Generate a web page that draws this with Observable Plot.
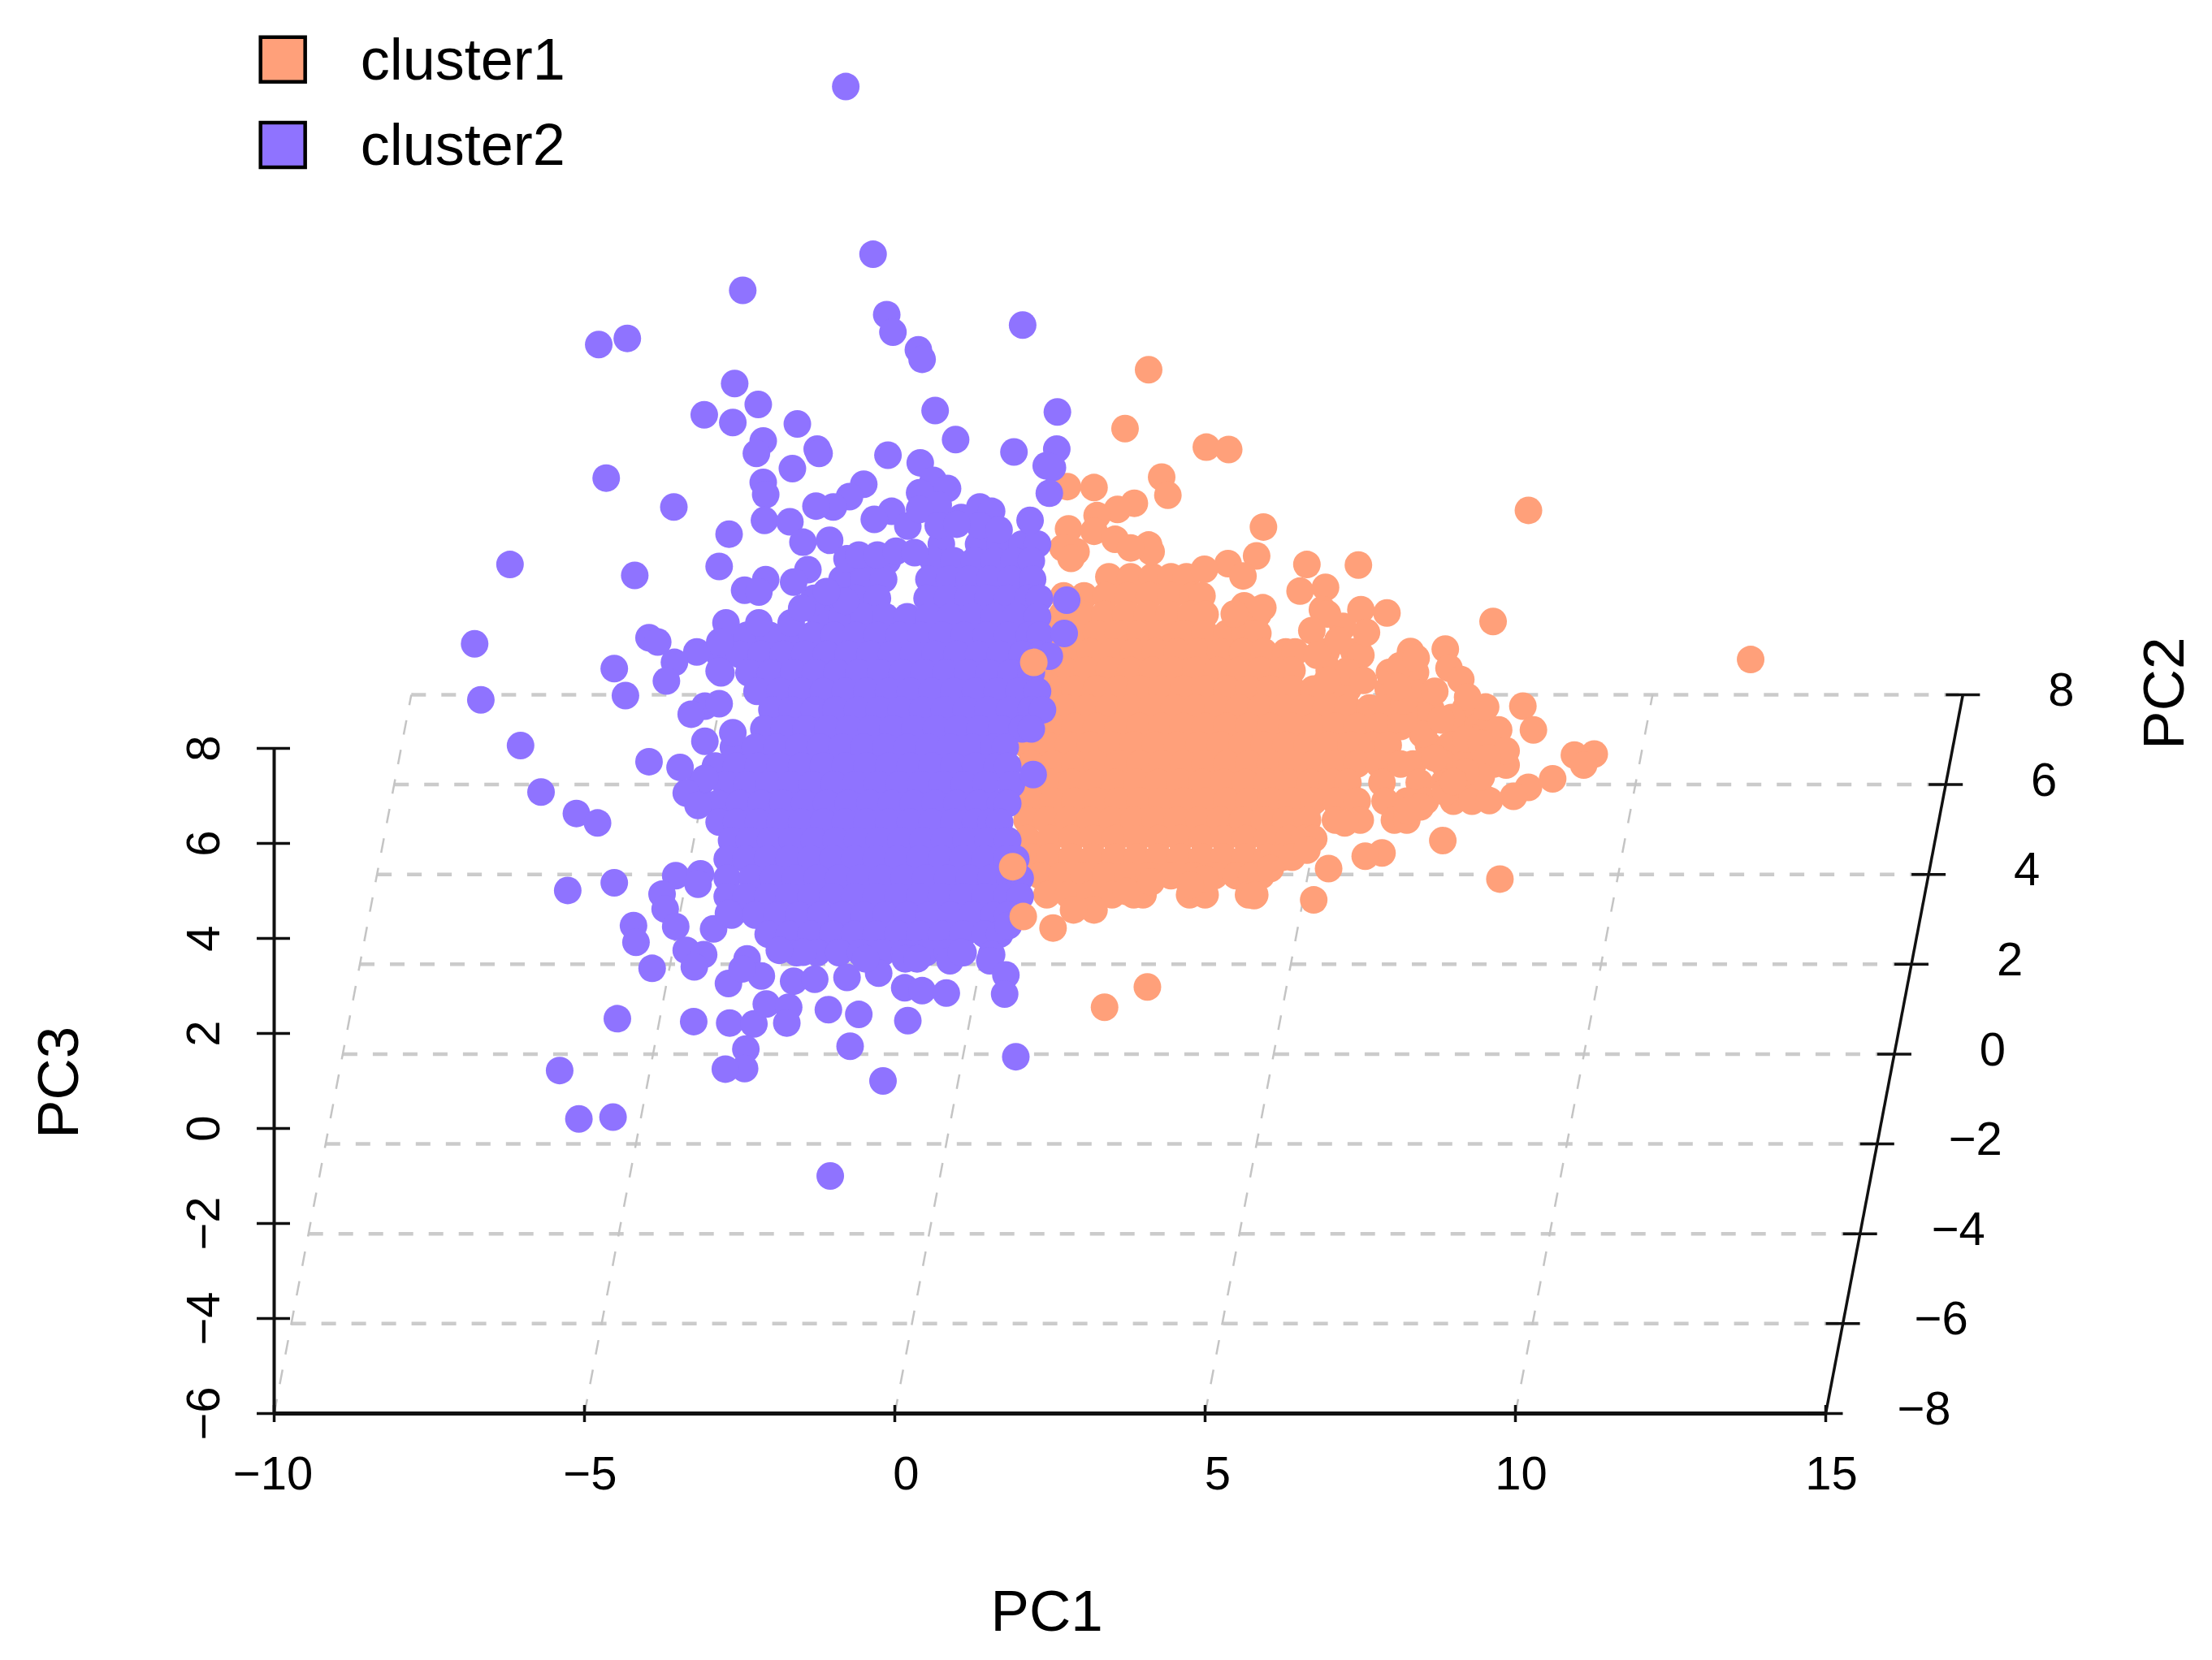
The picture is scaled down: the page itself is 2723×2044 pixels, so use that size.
<!DOCTYPE html>
<html>
<head>
<meta charset="utf-8">
<script src="https://cdn.jsdelivr.net/npm/d3@7"></script>
<script src="https://cdn.jsdelivr.net/npm/@observablehq/plot@0.6"></script>
<style>html,body{margin:0;padding:0;background:#fff}svg{display:block}</style>
</head>
<body>
<div id="chart"></div>
<script>
// Tick values
const pc1Ticks = [-10, -5, 0, 5, 10, 15];
const pc1LabelShift = [-0.02, 0.09, 0.18, 0.2, 0.09, 0.09];
const pc2Ticks = [-8, -6, -4, -2, 0, 2, 4, 6, 8];
const pc3Ticks = [-6, -4, -2, 0, 2, 4, 6, 8];
const clusterNames = ["cluster1", "cluster2"];
const orangeColor = "#ffa07a";
const purpleColor = "#8f73ff";

// Points as seen in the picture: [projected PC1, projected PC3]
const cluster1Scattered = [[4.09,15.97],[3.71,14.73],[5.02,14.34],[5.38,14.29],[2.78,13.51],[3.21,13.49],[4.30,13.71],[4.40,13.33],[10.21,13.01],[3.86,13.16],[3.59,13.03],[3.26,12.90],[5.94,12.66],[2.80,12.62],[3.21,12.57],[3.55,12.40],[2.71,12.22],[2.92,12.14],[2.84,12.0],[4.09,12.28],[4.13,12.14],[3.80,12.22],[5.83,12.05],[5.37,11.89],[4.99,11.77],[6.64,11.87],[7.47,11.86],[5.61,11.63],[6.53,11.31],[6.94,11.39],[9.64,10.67],[7.51,10.92],[7.93,10.85],[5.63,11.0],[5.93,10.96],[6.89,10.92],[13.79,9.87],[8.31,10.04],[8.87,10.09],[8.93,9.69],[9.12,9.45],[7.51,9.96],[7.60,10.44],[7.22,10.57],[10.12,8.89],[10.29,8.39],[9.52,8.87],[9.73,8.39],[10.95,7.86],[11.27,7.88],[11.10,7.65],[10.60,7.36],[10.21,7.18],[9.97,6.99],[9.58,6.90],[9.85,7.65],[9.85,7.95],[8.87,7.08],[8.47,6.77],[8.26,6.69],[7.25,6.43],[8.83,6.06],[7.85,5.80],[7.58,5.73],[6.99,5.47],[9.75,5.25],[6.75,4.81],[5.79,4.90],[6.64,5.86],[6.05,5.47],[4.99,5.25],[4.76,5.12],[4.13,5.19],[3.73,4.99],[3.21,4.60],[2.88,4.60],[3.38,2.55],[4.07,2.98],
[6.97,10.83],[6.72,10.48],[7.14,10.27],[6.8,9.96],[7.3,9.6],[6.97,9.43],[7.55,9.43],[7.97,9.6],[8.39,9.6],[8.47,9.17],[8.64,8.82],[9.23,9.08],[8.97,8.65],[9.31,8.21],[8.14,9.74],[5.47,10.83],[9.2,8.2],[9.45,8.1],[9.55,7.8],[9.45,7.4],[9.2,7.5],[9.0,7.3],[8.7,7.8],[8.5,8.3],[8.2,8.6],[8.8,8.6],[8.2,9.0],[8.7,9.2],[8.4,9.9],[8.1,9.3]];
const cluster1OnTop = [[2.24,9.81],[1.90,5.51],[2.07,4.46],[2.55,4.22]];
const cluster1Dense = [
 [11.61,[3.45,3.8,4.15,4.45,4.7]],
 [11.21,[2.72,3.05,3.4,3.75,4.1,4.45,4.8,4.95]],
 [10.82,[2.7,3.02,3.38,3.72,4.07,4.42,4.77,5.0,5.6,5.85]],
 [10.42,[2.55,2.9,3.25,3.6,3.95,4.3,4.65,5,5.35,5.65,5.85]],
 [10.03,[2.1,2.45,2.8,3.15,3.5,3.85,4.2,4.55,4.9,5.25,5.6,5.95,6.3,6.45,6.95,7.4]],
 [9.64,[2.05,2.4,2.75,3.1,3.45,3.8,4.15,4.5,4.85,5.2,5.55,5.9,6.25,6.4,7,7.3]],
 [9.25,[2.2,2.55,2.9,3.25,3.6,3.95,4.3,4.65,5,5.35,5.7,6.05,6.4,6.75,7.1,7.3,7.95,8.3]],
 [8.85,[2.1,2.4,2.75,3.1,3.45,3.8,4.15,4.5,4.85,5.2,5.55,5.9,6.25,6.6,6.95,7.3,7.65,7.85,8.45,9.2]],
 [8.46,[2.2,2.55,2.9,3.25,3.6,3.95,4.3,4.65,5,5.35,5.7,6.05,6.4,6.75,7.1,7.45,7.8,8.15,8.55,9.05,9.4]],
 [8.07,[2.13,2.45,2.8,3.15,3.5,3.85,4.2,4.55,4.9,5.25,5.6,5.95,6.3,6.65,7,7.35,7.7,7.95,8.6,8.95,9.35]],
 [7.67,[2.2,2.55,2.9,3.25,3.6,3.95,4.3,4.65,5,5.35,5.7,6.05,6.4,6.75,7.1,7.45,7.8,8.15,8.35,8.85,9.2,9.65]],
 [7.28,[2.2,2.5,2.85,3.2,3.55,3.9,4.25,4.6,4.95,5.3,5.65,6,6.35,6.7,7.05,7.3,7.85,8.45,8.85,9.15,9.4]],
 [6.89,[2.2,2.55,2.9,3.25,3.6,3.95,4.3,4.65,5,5.35,5.7,6.05,6.4,6.75,7.1,7.45,7.9,8.25,8.55,9.0,9.3]],
 [6.49,[2.13,2.45,2.8,3.15,3.5,3.85,4.2,4.55,4.9,5.25,5.6,5.95,6.3,6.65,7.1,7.5,8.05,8.25]],
 [6.10,[2.13,2.5,2.85,3.2,3.55,3.9,4.25,4.6,4.95,5.3,5.65,6,6.35,6.6,6.75]],
 [5.71,[2.2,2.5,2.85,3.2,3.55,3.9,4.25,4.6,4.95,5.3,5.65,6,6.25,6.4]],
 [5.32,[2.35,2.7,3.05,3.4,3.75,4.1,4.45,4.8,5.15,5.5,5.75,5.9]],
 [4.92,[2.45,2.8,3.15,3.5,3.85,4.0,4.75,5.0,5.7,5.8]]
];

const cluster2Scattered = [[-0.79,21.93],[-0.35,18.40],[-2.45,17.64],[-4.31,16.63],[-4.77,16.50],[-0.13,17.13],[-0.03,16.76],[0.38,16.39],[0.44,16.19],[2.06,16.91],[-2.58,15.68],[-2.20,15.24],[-3.07,15.02],[-2.61,14.86],[-1.57,14.83],[0.65,15.11],[2.62,15.08],[-2.12,14.47],[-2.23,14.21],[-1.25,14.30],[-1.22,14.21],[0.98,14.50],[2.61,14.30],[1.92,14.24],[-0.11,14.17],[2.44,13.95],[2.54,13.91],[0.41,14.01],[-1.65,13.89],[-4.65,13.69],[-2.12,13.60],[-2.08,13.34],[-0.50,13.56],[2.49,13.37],[0.62,13.64],[0.85,13.47],[0.40,13.38],[-0.73,13.30],[-0.99,13.08],[-1.27,13.10],[-3.56,13.08],[2.18,12.80],[-2.10,12.80],[-1.69,12.77],[-0.05,12.99],[-0.33,12.82],[1.37,13.08],[1.56,12.99],[0.21,12.68],[0.70,13.12],[-2.67,12.51],[-1.48,12.34],[-1.05,12.38],[-6.20,11.87],[-2.83,11.83],[-1.40,11.76],[-4.19,11.64],[-1.63,11.50],[-2.08,11.55],[-2.42,11.33],[-2.19,11.29],[-0.77,11.99],[-0.80,11.10],[-1.33,11.07],[-2.72,10.64],[-2.19,10.64],[-1.67,10.64],[-3.96,10.33],[-3.82,10.24],[-6.77,10.2],[-3.19,10.03],[-2.82,10.24],[-3.55,9.81],[-2.83,9.63],[-4.52,9.68],[-3.68,9.42],[2.77,11.12],[2.73,10.42],[2.49,9.94],[2.23,7.45],
[0.40,13.03],[0.70,12.69],[1.07,12.86],[1.37,12.69],[1.68,12.6],[1.0,12.72],[-0.58,12.07],[-0.28,12.07],[0.02,12.15],[0.32,12.12],[-1.5,10.95],[-1.1,11.3],
[-6.67,9.02],[-4.34,9.11],[-3.06,8.89],[-3.28,8.72],[-2.83,8.94],[-6.03,8.06],[-3.06,8.15],[-2.61,8.33],[-3.96,7.72],[-3.46,7.60],[-5.70,7.08],[-3.06,7.37],[-3.36,7.06],[-3.17,6.80],[-5.13,6.63],[-4.79,6.43],[-4.52,5.17],[-5.27,5.01],[-3.53,5.32],[-3.13,5.36],[-3.17,5.14],[-3.75,4.93],[-3.70,4.62],[-3.53,4.25],[-4.21,4.27],[-4.17,3.92],[-3.36,3.75],[-3.08,3.66],[-3.23,3.40],[-3.91,3.37],[-2.92,4.20],[-2.68,4.53],[-2.38,3.57],[-2.15,3.21],[-2.68,3.05],[-2.46,3.36],[-1.63,3.10],[-1.29,3.14],[-0.77,3.18],[-0.26,3.27],[-0.47,3.57],[-1.48,3.71],[-1.86,3.75],[0.17,3.57],[0.36,3.57],[0.89,3.53],[1.07,3.71],[0.16,2.96],[0.44,2.90],[0.83,2.85],[1.56,3.66],[1.53,3.53],[1.79,3.23],[1.77,2.83],[1.83,4.27],[-4.47,2.31],[-3.24,2.25],[-2.66,2.22],[-2.27,2.20],[-2.07,2.62],[-1.71,2.55],[-1.74,2.22],[-1.07,2.50],[-0.58,2.40],[0.21,2.27],[-2.40,1.67],[-0.72,1.73],[-2.42,1.26],[-2.73,1.25],[-5.40,1.22],[-0.19,1.00],[1.95,1.51],[-5.09,0.20],[-4.54,0.24],[-1.04,-1.00]];
const cluster2Dense = [
 [12.3,[0.75,1.35,1.7,2.05,2.3]],
 [11.95,[-0.75,-0.42,-0.12,0.62,0.95,1.28,1.6,1.92,2.2]],
 [11.56,[-0.85,-0.5,-0.18,0.55,0.88,1.2,1.53,1.87,2.22]],
 [11.16,[-1.3,-0.98,-0.62,-0.28,0.52,0.85,1.18,1.5,1.82,2.15,2.33]],
 [10.77,[-1.2,-0.85,-0.5,-0.15,0.2,0.55,0.9,1.25,1.6,1.95,2.3]],
 [10.38,[-2.72,-2.38,-2.02,-1.68,-1.33,-0.98,-0.63,-0.28,0.07,0.42,0.77,1.12,1.47,1.82,2.17,2.34]],
 [9.98,[-2.83,-2.5,-2.15,-1.8,-1.45,-1.1,-0.75,-0.4,-0.05,0.3,0.65,1,1.35,1.7,2.05,2.34]],
 [9.59,[-2.8,-2.35,-2,-1.63,-1.28,-0.93,-0.58,-0.23,0.12,0.47,0.82,1.17,1.52,1.87,2.2]],
 [9.2,[-2.22,-1.85,-1.5,-1.15,-0.8,-0.45,-0.1,0.25,0.6,0.95,1.3,1.65,2,2.3]],
 [8.81,[-1.98,-1.65,-1.3,-0.95,-0.6,-0.25,0.1,0.45,0.8,1.15,1.5,1.85,2.2,2.38]],
 [8.41,[-2.11,-1.78,-1.43,-1.08,-0.73,-0.38,-0.03,0.32,0.67,1.02,1.37,1.72,2.05,2.2]],
 [8.02,[-2.6,-2.25,-1.9,-1.55,-1.2,-0.85,-0.5,-0.15,0.2,0.55,0.9,1.25,1.6,1.78]],
 [7.63,[-2.89,-2.55,-2.2,-1.85,-1.5,-1.15,-0.8,-0.45,-0.1,0.25,0.6,0.95,1.3,1.65,1.82]],
 [7.24,[-3.15,-2.72,-2.38,-2.03,-1.68,-1.33,-0.98,-0.63,-0.28,0.07,0.42,0.77,1.12,1.47,1.88]],
 [6.84,[-3.15,-2.85,-2.5,-2.15,-1.8,-1.45,-1.1,-0.75,-0.4,-0.05,0.3,0.65,1,1.35,1.7,1.82]],
 [6.45,[-2.83,-2.55,-2.2,-1.85,-1.5,-1.15,-0.8,-0.45,-0.1,0.25,0.6,0.95,1.3,1.55,1.69]],
 [6.06,[-2.63,-2.35,-2,-1.65,-1.3,-0.95,-0.6,-0.25,0.1,0.45,0.8,1.15,1.5,1.82]],
 [5.67,[-2.7,-2.4,-2.05,-1.7,-1.35,-1,-0.65,-0.3,0.05,0.4,0.75,1.1,1.45,1.8,1.95]],
 [5.27,[-2.7,-2.3,-1.95,-1.6,-1.25,-0.9,-0.55,-0.2,0.15,0.5,0.85,1.2,1.55,1.85,2.02]],
 [4.88,[-2.7,-2.4,-2.05,-1.7,-1.35,-1,-0.65,-0.3,0.05,0.4,0.75,1.1,1.45,1.8,2.02]],
 [4.49,[-2.63,-2.25,-1.9,-1.55,-1.2,-0.85,-0.5,-0.15,0.2,0.55,0.9,1.25,1.6,1.82]],
 [4.09,[-2.04,-1.7,-1.35,-1,-0.65,-0.3,0.05,0.4,0.75,1.1,1.45,1.69]],
 [3.7,[-1.58,-1.25,-0.9,-0.55,-0.2,0.15,0.5,0.85,1.1]]
];

const flatten = rows => rows.flatMap(([pc3, pc1s]) => pc1s.map(pc1 => [pc1, pc3]));
const orangeUnder = [...flatten(cluster1Dense), ...cluster1Scattered];
const purple = [...flatten(cluster2Dense), ...cluster2Scattered];

// PC2 runs obliquely across the floor of the box
const skewX = pc2 => (pc2 + 8) * 0.1381;
const skewY = pc2 => (pc2 + 8) * 0.9456;
const gridPC2 = pc2Ticks.slice(1);
const gridPC1 = pc1Ticks.slice(0, -1);

const font = "'Liberation Sans', Arial, sans-serif";
const dotOpts = color => ({x: d => d[0], y: d => d[1], r: 17, fill: color, stroke: "none"});
const minus = d => String(d).replace("-", "\u2212");

const plot = Plot.plot({
  width: 2723, height: 2044,
  marginLeft: 337, marginRight: 476, marginTop: 921, marginBottom: 304,
  style: {background: "#fff", fontFamily: font},
  x: {domain: [-10, 15]},
  y: {domain: [-6, 8]},
  marks: [
    // Dashed box grid
    Plot.link(gridPC2, {x1: d => -10 + skewX(d), x2: d => 15 + skewX(d), y1: d => -6 + skewY(d), y2: d => -6 + skewY(d), stroke: "#cbcbcb", strokeWidth: 4.5, strokeDasharray: "18,19"}),
    Plot.link(gridPC1, {x1: d => d, x2: d => d + skewX(8), y1: -6, y2: -6 + skewY(8), stroke: "#c4c4c4", strokeWidth: 2.5, strokeDasharray: "18,19"}),
    // Axes
    Plot.ruleY([-6], {x1: -10, x2: 15, stroke: "#111", strokeWidth: 5}),
    Plot.ruleX([-10], {y1: -6, y2: 8, stroke: "#111", strokeWidth: 4}),
    Plot.axisX({ticks: pc1Ticks, label: null, tickSize: 21, dy: -10, tickFormat: () => "", strokeWidth: 3.5, stroke: "#111"}),
    Plot.text(pc1Ticks, {x: (d, i) => d + pc1LabelShift[i], y: -6, dy: 75, text: minus, fontSize: 58, fill: "#000"}),
    Plot.axisY({ticks: pc3Ticks, label: null, tickSize: 41, dx: 20, tickPadding: 47, tickRotate: -90, textAnchor: "middle", fontSize: 58, strokeWidth: 3.5, stroke: "#111"}),
    Plot.link([[-8, 8]], {x1: d => 15 + skewX(d[0]), x2: d => 15 + skewX(d[1]), y1: d => -6 + skewY(d[0]), y2: d => -6 + skewY(d[1]), stroke: "#111", strokeWidth: 3.5}),
    Plot.link(pc2Ticks, {x1: d => 15 + skewX(d) - 0.275, x2: d => 15 + skewX(d) + 0.275, y1: d => -6 + skewY(d), y2: d => -6 + skewY(d), stroke: "#111", strokeWidth: 3.5}),
    Plot.text(pc2Ticks, {x: d => 15 + skewX(d), y: d => -6 + skewY(d), dx: 121, dy: -5, text: minus, fontSize: 58, fill: "#000"}),
    // Points
    Plot.dot(orangeUnder, dotOpts(orangeColor)),
    Plot.dot(purple, dotOpts(purpleColor)),
    Plot.dot(cluster1OnTop, dotOpts(orangeColor)),
    // Axis titles
    Plot.text(["PC1"], {x: 2.45, y: -10.19, fontSize: 71, fill: "#000"}),
    Plot.text(["PC3"], {x: -13.46, y: 0.97, rotate: -90, fontSize: 71, fill: "#000"}),
    Plot.text(["PC2"], {x: 20.47, y: 9.16, rotate: -90, fontSize: 71, fill: "#000"}),
    // Legend
    Plot.dot([clusterNames[0]], {x: -9.86, y: 22.5, symbol: "square", r: 31, fill: orangeColor, stroke: "#000", strokeWidth: 4.5}),
    Plot.dot([clusterNames[1]], {x: -9.86, y: 20.7, symbol: "square", r: 31, fill: purpleColor, stroke: "#000", strokeWidth: 4.5}),
    Plot.text([clusterNames[0]], {x: -8.61, y: 22.47, text: d => d, textAnchor: "start", fontSize: 72, fill: "#000"}),
    Plot.text([clusterNames[1]], {x: -8.61, y: 20.68, text: d => d, textAnchor: "start", fontSize: 72, fill: "#000"})
  ]
});
document.getElementById("chart").append(plot);
</script>
</body>
</html>
